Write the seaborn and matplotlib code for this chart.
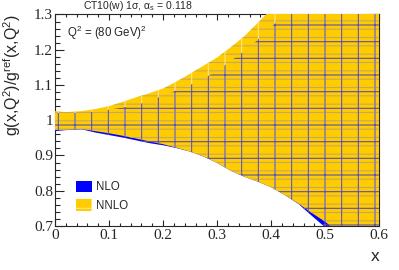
import matplotlib
matplotlib.use("Agg")
import matplotlib.pyplot as plt
import seaborn as sns
from matplotlib.patches import Patch
from matplotlib.ticker import MultipleLocator, FormatStrFormatter

x_grid = [0, 0.02, 0.05, 0.075, 0.1, 0.125, 0.15, 0.175, 0.2, 0.225, 0.25, 0.275,
          0.3, 0.325, 0.35, 0.375, 0.4, 0.425, 0.45, 0.475, 0.5, 0.525, 0.55, 0.6]

# NNLO band (yellow)
nnlo_hi = [1.026, 1.023, 1.026, 1.032, 1.040, 1.052, 1.065, 1.077, 1.090, 1.110, 1.132, 1.155,
           1.178, 1.207, 1.238, 1.276, 1.315, 1.36, 1.40, 1.45, 1.50, 1.55, 1.60, 1.70]
nnlo_lo = [0.972, 0.973, 0.975, 0.969, 0.963, 0.956, 0.948, 0.940, 0.932, 0.922, 0.911, 0.897,
           0.879, 0.857, 0.840, 0.826, 0.810, 0.788, 0.764, 0.737, 0.712, 0.680, 0.650, 0.580]

# NLO band (blue)
nlo_hi = [1.021, 1.020, 1.021, 1.025, 1.030, 1.036, 1.043, 1.055, 1.070, 1.085, 1.100, 1.118,
          1.140, 1.168, 1.196, 1.228, 1.265, 1.30, 1.34, 1.38, 1.42, 1.46, 1.50, 1.60]
nlo_lo = [0.969, 0.972, 0.974, 0.965, 0.958, 0.951, 0.943, 0.935, 0.929, 0.921, 0.911, 0.897,
          0.879, 0.857, 0.840, 0.826, 0.810, 0.788, 0.763, 0.729, 0.696, 0.660, 0.630, 0.560]

labels = ["NLO", "NNLO"]
title = "CT10(w) 1σ, α$_{\\rm s}$ = 0.118"
q2_text = "Q$^{2}$ = (80 GeV)$^{2}$"

sns.set_style("ticks")
plt.rcParams["font.family"] = ["Liberation Sans", "DejaVu Sans"]
plt.rcParams["mathtext.fontset"] = "custom"
plt.rcParams["mathtext.rm"] = "Liberation Sans"
plt.rcParams["mathtext.it"] = "Liberation Sans:italic"
plt.rcParams["hatch.linewidth"] = 0.8

serif_fonts = ["Liberation Serif", "DejaVu Serif"]

blue = "#0000ff"
yellow = "#ffcc00"

fig = plt.figure(figsize=(3.99, 2.70), dpi=100)
ax = fig.add_axes([0.1378, 0.163, 0.8128, 0.7833])

# NLO solid band underneath, so it shows where it sticks out of NNLO
ax.fill_between(x_grid, nlo_lo, nlo_hi, color=blue, linewidth=0, zorder=3)
sns.lineplot(x=x_grid, y=nlo_hi, color=blue, linewidth=0.5, ax=ax, zorder=3)

# NNLO yellow band on top
ax.fill_between(x_grid, nnlo_lo, nnlo_hi, color=yellow, linewidth=0, zorder=4)
ax.fill_between(x_grid, nnlo_lo, nnlo_hi, facecolor="none", edgecolor="#c8a860",
                hatch="--", linewidth=0, zorder=5)
ax.fill_between(x_grid, nnlo_lo, nnlo_hi, facecolor="none", edgecolor="#ffe680",
                hatch="|", linewidth=0, zorder=5)

# NLO grid hatch seen through
ax.fill_between(x_grid, nlo_lo, nlo_hi, facecolor="none", edgecolor="#5a50b4",
                hatch="-|", linewidth=0, zorder=6)

ax.set_xlim(0, 0.6)
ax.set_ylim(0.7, 1.3)

ax.xaxis.set_major_locator(MultipleLocator(0.1))
ax.xaxis.set_minor_locator(MultipleLocator(0.02))
ax.yaxis.set_major_locator(MultipleLocator(0.1))
ax.yaxis.set_minor_locator(MultipleLocator(0.02))
ax.xaxis.set_major_formatter(FormatStrFormatter("%g"))
ax.yaxis.set_major_formatter(FormatStrFormatter("%g"))

for s in ax.spines.values():
    s.set_linewidth(0.8)
ax.tick_params(which="both", direction="in", top=True, right=True, width=0.8)
ax.tick_params(axis="y", which="major", length=6.5, pad=1.5)
ax.tick_params(axis="y", which="minor", length=3.5)
ax.tick_params(axis="x", which="major", length=4.5, pad=2)
ax.tick_params(axis="x", which="minor", length=2.5)

ax.set_xlabel("x", fontsize=12.5, ha="right", va="baseline")
ax.xaxis.set_label_coords(1.0, -0.164)
ax.set_ylabel("g(x,Q$^{2}$)/g$^{\\rm ref}$(x,Q$^{2}$)", fontsize=11.5, ha="right")
ax.yaxis.set_label_coords(-0.099, 1.0)

ax.text(0.022, 1.237, q2_text, fontsize=8.3)
fig.text(138 / 399, 1 - 9 / 270, title, ha="center", va="baseline", fontsize=7.5)

handles = [Patch(facecolor=blue, edgecolor=blue, linewidth=0),
           Patch(facecolor=yellow, edgecolor="#ffe680", hatch="-|", linewidth=0)]
ax.legend(handles, labels, loc="lower left", bbox_to_anchor=(0.065, 0.066),
          frameon=False, fontsize=8.3, borderpad=0, borderaxespad=0,
          handlelength=1.4, handleheight=1.2, handletextpad=0.35, labelspacing=0.5)

fig.canvas.draw()
for lab in ax.get_xticklabels() + ax.get_yticklabels():
    lab.set_family(serif_fonts)
    lab.set_size(11)

fig.savefig("out.png", dpi=100)
